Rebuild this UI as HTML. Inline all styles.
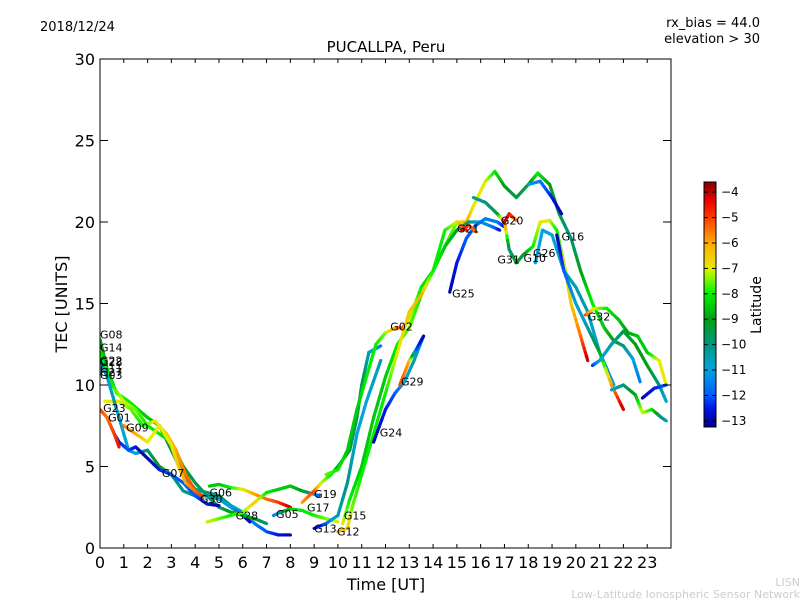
<!DOCTYPE html>
<html><head><meta charset="utf-8"><style>
body{margin:0;background:#fff;}
svg{display:block;font-family:"DejaVu Sans","Liberation Sans",sans-serif;}
</style></head><body>
<svg id="chart" width="800" height="600" viewBox="0 0 800 600" xmlns="http://www.w3.org/2000/svg">
<rect width="800" height="600" fill="#fff"/>
<text x="40" y="31" font-size="13">2018/12/24</text>
<text x="760" y="27" font-size="13" text-anchor="end">rx_bias = 44.0</text>
<text x="760" y="43" font-size="13" text-anchor="end">elevation &gt; 30</text>
<text x="386" y="52" font-size="15" text-anchor="middle">PUCALLPA, Peru</text>
<text x="386" y="590" font-size="16" text-anchor="middle">Time [UT]</text>
<text x="67" y="304" font-size="16" text-anchor="middle" transform="rotate(-90 67 304)">TEC [UNITS]</text>
<text x="800" y="586" font-size="11" fill="#ccc" text-anchor="end">LISN</text>
<text x="800" y="598" font-size="11" fill="#ccc" text-anchor="end">Low-Latitude Ionospheric Sensor Network</text>
<defs><clipPath id="pc"><rect x="100" y="59" width="571" height="489"/></clipPath>
<linearGradient id="jet" x1="0" y1="1" x2="0" y2="0" id2="g"></linearGradient></defs>
<g id="plot" clip-path="url(#pc)"></g>
<g id="labels"></g>
<rect x="100" y="59" width="571" height="489" fill="none" stroke="#000" stroke-width="1"/>
<g id="axes"></g>
<rect x="704" y="182" width="12" height="245" fill="url(#jet)" stroke="#000" stroke-width="1"/>
<g id="cbticks"></g>
<text x="761" y="305" font-size="14" text-anchor="middle" transform="rotate(-90 761 305)">Latitude</text>
</svg>
<script>
const xTicks=[0,1,2,3,4,5,6,7,8,9,10,11,12,13,14,15,16,17,18,19,20,21,22,23];
const yTicks=[0,5,10,15,20,25,30];
const cbTicks=[-4,-5,-6,-7,-8,-9,-10,-11,-12,-13];
const trackA=[[0,12.8,-9],[0.3,11,-8.5],[0.7,9.5,-8],[1.2,9,-8],[2,8,-8.5],[2.5,7.5,-9],[3,6,-9.5],[3.5,4.5,-10],[4,3.6,-10],[4.5,3.4,-10],[5,3.2,-10],[5.5,2.6,-10.5],[6,2.2,-11],[6.5,1.5,-11.5],[7,1,-12],[7.5,0.8,-12.5],[8,0.8,-13]];
const trackB=[[0,12,-8],[0.5,10,-8],[1,9,-7],[1.5,8.5,-7.5],[2,7.5,-8],[2.5,7,-8],[3,6.5,-8.5],[3.5,5,-9],[4,4,-9.5],[4.5,3.2,-10],[5,3,-10.5],[5.5,2.5,-11],[6,2,-12],[6.3,1.6,-13]];
const trackC=[[0.2,9,-7],[0.8,9,-7],[1.3,8.5,-7.5],[1.8,7.5,-8],[2.3,7.8,-7],[2.8,7,-6.5],[3.2,6,-6],[3.6,4.5,-5.5],[4,3.5,-5],[4.3,3,-4.5]];
const trackD=[[0,11.5,-11],[0.3,10.5,-11],[0.6,9,-10.5],[1,7,-11],[1.2,6,-11],[1.5,5.8,-11],[2,6,-10],[2.5,5,-9],[3,4.5,-10],[3.5,3.5,-10],[4,3.2,-10],[4.5,3.2,-10],[5,2.5,-10],[5.5,2.2,-9],[6,2,-8.5],[6.5,1.8,-9],[7,1.5,-10]];
const trackE=[[0.3,8,-12],[0.6,7,-12],[0.8,6.5,-12.5],[1.2,6,-12],[1.5,6.2,-12.5],[2,5.5,-13],[2.5,4.8,-12.5],[3,4.5,-12],[3.5,4,-12],[4,3.2,-12],[4.5,2.7,-12.5],[5,2.6,-13]];
const trackF=[[0,8.5,-5],[0.3,8,-5.5],[0.6,7,-5],[0.8,6.2,-4.5]];
const trackG=[[1,7.5,-5.5],[1.5,7,-6],[2,6.5,-7],[2.5,7.5,-7],[3,6.3,-7],[3.3,5,-6.5],[3.6,4,-6],[4,3.5,-5.5],[4.3,3.2,-5]];
const trackH=[[4.6,3.8,-8.5],[5,3.9,-8.5],[5.5,3.7,-8],[6,3.6,-7],[6.5,3.3,-6],[7,3,-5.5],[7.5,2.8,-5],[8,2.5,-4]];
const trackI=[[4.5,1.6,-7],[5,1.8,-7.5],[5.5,2,-8],[6,2.2,-7.5],[6.5,2.8,-6.5],[7,3.4,-8],[7.5,3.6,-8.5],[8,3.8,-8.5],[8.5,3.5,-9],[9,3.3,-10.5],[9.2,3.2,-12]];
const trackJ=[[7.3,2,-12],[7.6,2.2,-10],[8,2.4,-8.5],[8.5,2.3,-8],[9,2,-8],[9.5,1.8,-7.5],[10,1.6,-7]];
const trackK=[[8.5,2.8,-6],[9,3.5,-5],[9.3,4,-7],[9.7,4.5,-8],[10,5,-9],[10.5,6,-9.5],[10.8,8,-9.5],[11,10,-9.5],[11.3,12,-10.5],[11.8,12.4,-11.5]];
const trackL=[[9.5,4.5,-7.5],[10,4.8,-8],[10.4,6,-8.5],[10.8,8.5,-8.5],[11.2,10.5,-8],[11.6,12.5,-8],[12,13.2,-7.5],[12.4,13.5,-6],[12.7,13.5,-5],[13,14,-7],[13.5,16,-8],[14,17,-8.5],[14.5,18.5,-8],[15,20,-7.5],[15.4,20,-6],[15.7,21,-7],[16.2,22.5,-7],[16.6,23.1,-8],[17,22.2,-9],[17.5,21.5,-9.5],[18,22.3,-9.5],[18.4,23,-8],[18.9,22.3,-9],[19.3,20.5,-9.5],[19.8,19,-10],[20.2,17,-9],[20.7,15,-8],[21.2,13.5,-8.5],[21.6,12.7,-9],[22,12.4,-10],[22.4,11.6,-11],[22.7,10.2,-11.5]];
const trackM=[[10.2,1.5,-7],[10.5,3,-8],[11,5,-8.5],[11.5,8,-8.5],[12,10.5,-8.5],[12.5,12.5,-8],[13,13.5,-7.5],[13.5,15.5,-8],[14,17,-8],[14.5,18.5,-8.5],[15,19.5,-9],[15.5,20,-10],[16,20,-11],[16.5,19.7,-11.5],[16.8,19.5,-12.5]];
const trackN=[[10,1,-6],[10.4,1.2,-6.5],[10.6,2.5,-7.5],[11,4.5,-8],[11.5,7,-8],[12,9.5,-8],[12.5,12,-7],[13,14.5,-6.5],[13.5,15.5,-6],[14,17,-8],[14.5,19.5,-8],[15,20,-7],[15.4,19.5,-4.5]];
const trackO=[[11.5,6.5,-13],[12,8.5,-12.5],[12.4,9.5,-12],[12.8,10.2,-11],[13.2,11.5,-10.5],[13.6,13,-11]];
const trackP=[[12.6,10,-5],[13,11.5,-6],[13.3,12.2,-12],[13.6,13,-13]];
const trackQ=[[9,1.2,-13],[9.5,1.5,-12],[10,2,-10.5],[10.4,4,-10],[10.8,7,-11],[11.2,9,-11],[11.8,11.5,-10.5]];
const trackR=[[14.7,15.7,-13],[15,17.5,-12.5],[15.4,19,-12],[15.8,19.8,-12],[16.2,20.2,-11.5],[16.7,20,-11.5],[17,19.7,-12.5]];
const trackS=[[15.7,21.5,-10.5],[16.2,21.2,-10],[16.7,20.5,-9.5],[17,20,-5],[17.2,18.3,-10],[17.5,17.5,-9],[17.8,18,-9.5],[18.2,18.5,-8],[18.5,20,-7],[18.9,20.1,-7],[19.2,19.5,-8],[19.5,17.5,-7],[19.8,15,-6.5],[20.2,13,-5.5],[20.5,11.5,-4]];
const trackT=[[18.3,17.5,-11],[18.6,19.5,-11],[19,19.2,-11],[19.5,17,-10.5],[20,16,-10.5],[20.5,14.5,-10.5],[21,12,-11],[21.3,11,-11.5],[21.6,10,-11]];
const trackU=[[19.2,19.2,-13],[19.5,17,-12],[20,15,-11],[20.5,13.5,-10.5],[21,12,-9],[21.5,10,-6],[22,8.5,-4]];
const trackV=[[20.4,14.3,-5],[20.8,14.7,-7],[21.3,14.7,-8],[21.8,14,-8.5],[22.2,13.2,-9],[22.6,13,-8.5],[23,12,-8.5],[23.5,11.5,-7],[23.8,10,-7]];
const trackW=[[20.7,11.2,-12.5],[21,11.5,-11],[21.5,12.5,-10.5],[22,13.3,-9.5],[22.5,12.5,-9],[23,11.2,-9],[23.5,10,-10],[23.8,9,-11]];
const trackX=[[21.5,9.7,-11],[22,10,-10],[22.5,9.4,-9],[22.8,8.3,-7],[23.2,8.5,-8],[23.6,8,-10],[23.8,7.8,-10.5]];
const trackY=[[18,22.3,-11],[18.5,22.5,-11.5],[19,21.5,-12.5],[19.4,20.5,-13]];
const trackZ=[[22.8,9.2,-13],[23.3,9.8,-12.5],[23.8,10,-12]];
const trackG20=[[17,20,-4],[17.2,20.5,-4.5],[17.5,20.1,-5.5]];
const trackG21=[[15.2,19.5,-4],[15.5,19.8,-5],[15.8,19.4,-5.5]];
const tracks=[trackA,trackB,trackC,trackD,trackE,trackF,trackG,trackH,trackI,trackJ,trackK,trackL,trackM,trackN,trackO,trackP,trackQ,trackR,trackS,trackT,trackU,trackV,trackW,trackX,trackY,trackZ,trackG20,trackG21];
const labelNames=["G08","G14","G22","G28","G11","G27","G03","G23","G01","G09","G07","G06","G30","G28","G05","G19","G17","G13","G15","G12","G24","G29","G02","G25","G21","G20","G31","G10","G26","G16","G32"];
const labelT=[0,0,0,0,0,0,0,0.13,0.34,1.1,2.6,4.6,4.2,5.7,7.4,9.0,8.7,9.0,10.25,9.96,11.76,12.65,12.2,14.8,15.0,16.85,16.7,17.8,18.2,19.4,20.5];
const labelV=[13.1,12.3,11.5,11.4,11.0,10.8,10.6,8.6,8.0,7.4,4.6,3.4,3.0,2.0,2.1,3.3,2.5,1.2,2.0,1.0,7.1,10.2,13.6,15.6,19.6,20.1,17.7,17.8,18.1,19.1,14.2];

const X=t=>100+t*571/24, Y=v=>548-v*489/30;
const latMin=-13.24, latMax=-3.6;
const CB=l=>427-(l-latMin)/(latMax-latMin)*245;
// colormap stops (lat, r,g,b) matched to the reference colorbar
const cmap=[[-13.24,0,0,140],[-12.5,0,20,230],[-12,0,90,255],[-11,0,165,220],[-10,0,150,130],[-9,0,160,20],[-8,0,240,0],[-7.3,150,250,0],[-7,230,235,0],[-6,255,170,0],[-5,255,60,0],[-4.3,230,0,0],[-3.6,130,0,0]];
function col(l){l=Math.max(latMin,Math.min(latMax,l));
 for(let i=0;i<cmap.length-1;i++){const a=cmap[i],b=cmap[i+1];if(l<=b[0]){const u=(l-a[0])/(b[0]-a[0]);
  return `rgb(${Math.round(a[1]+(b[1]-a[1])*u)},${Math.round(a[2]+(b[2]-a[2])*u)},${Math.round(a[3]+(b[3]-a[3])*u)})`;}}
 return 'rgb(130,0,0)';}
const NS="http://www.w3.org/2000/svg";
function mk(tag,at,parent){const e=document.createElementNS(NS,tag);for(const k in at)e.setAttribute(k,at[k]);parent.appendChild(e);return e;}
const grad=document.getElementById('jet');
cmap.forEach(s=>mk('stop',{offset:(s[0]-latMin)/(latMax-latMin),'stop-color':`rgb(${s[1]},${s[2]},${s[3]})`},grad));
const plot=document.getElementById('plot');
tracks.forEach((tr,ti)=>{
 const g=mk('g',{},plot);
 
 
 for(let i=0;i<tr.length-1;i++){const a=tr[i],b=tr[i+1];const n=6;
  for(let k=0;k<n;k++){const u0=k/n,u1=(k+1)/n;
   const s=mk('line',{x1:X(a[0]+(b[0]-a[0])*u0),y1:Y(a[1]+(b[1]-a[1])*u0),x2:X(a[0]+(b[0]-a[0])*u1),y2:Y(a[1]+(b[1]-a[1])*u1),stroke:col(a[2]+(b[2]-a[2])*(u0+u1)/2),'stroke-width':3.2,'stroke-linecap':'round'},g);
   
   
  }}
});
const lab=document.getElementById('labels');
labelNames.forEach((n,i)=>{const t=mk('text',{x:X(labelT[i]),y:Y(labelV[i])+4,'font-size':11},lab);t.textContent=n;
 
 });
const ax=document.getElementById('axes');
xTicks.forEach(v=>{const x=X(v);
 mk('line',{x1:x,y1:548,x2:x,y2:544,stroke:'#000'},ax);mk('line',{x1:x,y1:59,x2:x,y2:63,stroke:'#000'},ax);
 const t=mk('text',{x:x,y:568,'font-size':16,'text-anchor':'middle'},ax);t.textContent=v;
 
 });
yTicks.forEach(v=>{const y=Y(v);
 mk('line',{x1:100,y1:y,x2:108,y2:y,stroke:'#000'},ax);mk('line',{x1:671,y1:y,x2:663,y2:y,stroke:'#000'},ax);
 const t=mk('text',{x:95,y:y+6,'font-size':16,'text-anchor':'end'},ax);t.textContent=v;
 
 });
const cb=document.getElementById('cbticks');
cbTicks.forEach(v=>{const y=CB(v);
 mk('line',{x1:704,y1:y,x2:708,y2:y,stroke:'#000'},cb);mk('line',{x1:716,y1:y,x2:712,y2:y,stroke:'#000'},cb);
 const t=mk('text',{x:721,y:y+4,'font-size':12},cb);t.textContent='\u2212'+Math.abs(v);
 
 });
</script>
</body></html>
